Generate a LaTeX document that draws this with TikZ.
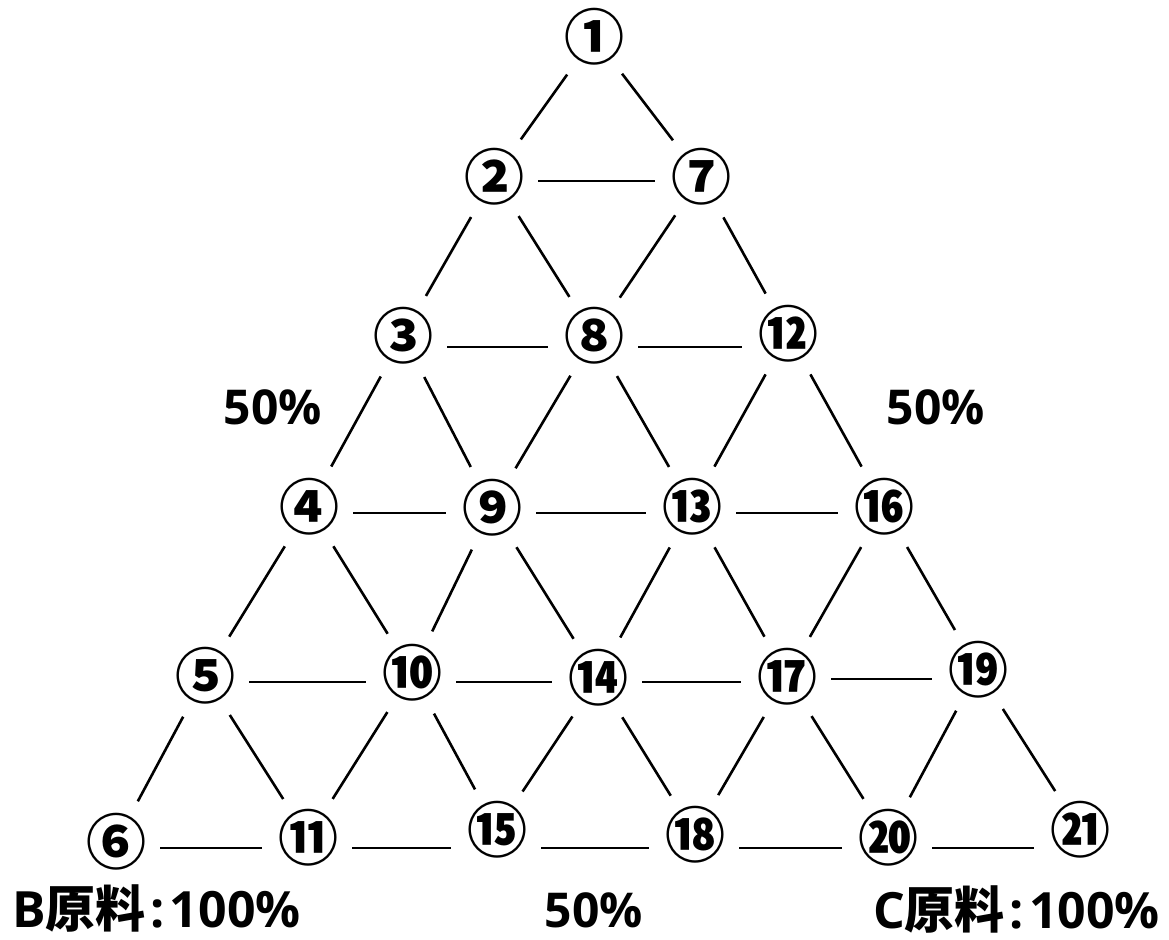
\documentclass[tikz,border=0pt]{standalone}
\usepackage{fontspec}
\setmainfont{Open Sans}
\newfontfamily\cjk{Noto Sans CJK JP}
\usetikzlibrary{calc}
\begin{document}
\begin{tikzpicture}[x=1pt,y=-1pt,
  num/.style={circle, minimum size=92pt, inner sep=0pt, font=\cjk\bfseries\fontsize{60}{60}\selectfont},
  lnk/.style={line width=2.6pt},
  pct/.style={inner sep=0pt, font=\bfseries\fontsize{48}{48}\selectfont},
  raw/.style={inner sep=0pt, font=\bfseries\fontsize{50}{50}\selectfont}]
\useasboundingbox (0,0) rectangle (1169,939);
\node[num] (n1) at (594,37) {①};
\node[num] (n2) at (494,177) {②};
\node[num] (n7) at (701,177) {⑦};
\node[num] (n3) at (403,336) {③};
\node[num] (n8) at (594,336) {⑧};
\node[num] (n12) at (788,334) {⑫};
\node[num] (n4) at (309,507) {④};
\node[num] (n9) at (492,508) {⑨};
\node[num] (n13) at (692,507) {⑬};
\node[num] (n16) at (884,507) {⑯};
\node[num] (n5) at (205,676) {⑤};
\node[num] (n10) at (412,673) {⑩};
\node[num] (n14) at (598,678) {⑭};
\node[num] (n17) at (787,677) {⑰};
\node[num] (n19) at (978,670) {⑲};
\node[num] (n6) at (116,842) {⑥};
\node[num] (n11) at (308,838) {⑪};
\node[num] (n15) at (497,830) {⑮};
\node[num] (n18) at (695,835) {⑱};
\node[num] (n20) at (888,838) {⑳};
\node[num] (n21) at (1080,830) {㉑};
% slanted connectors
\foreach \a/\b in {n1/n2,n1/n7,
  n2/n3,n2/n8,n7/n8,n7/n12,
  n3/n4,n3/n9,n8/n9,n8/n13,n12/n13,n12/n16,
  n4/n5,n4/n10,n9/n10,n9/n14,n13/n14,n13/n17,n16/n17,n16/n19,
  n5/n6,n5/n11,n10/n11,n10/n15,n14/n15,n14/n18,n17/n18,n17/n20,n19/n20,n19/n21}
  \draw[lnk] (\a) -- (\b);
% horizontal connectors (each row on one level)
\foreach \a/\b/\y in {n2/n7/181,
  n3/n8/347,n8/n12/347,
  n4/n9/513,n9/n13/513,n13/n16/513,
  n5/n10/682,n10/n14/682,n14/n17/682,n17/n19/679,
  n6/n11/848,n11/n15/848,n15/n18/848,n18/n20/848,n20/n21/848}
  \draw[lnk] ($(\a |- 0,\y)+(44,0)$) -- ($(\b |- 0,\y)+(-46,0)$);
\node[pct] (pl) at (273,407) {50\%};
\node[pct] (pr) at (936,407) {50\%};
\node[pct] (pb) at (594,910) {50\%};
\node[raw, anchor=west] (lb) at (12,908) {B{\cjk\bfseries 原料}\hspace{5pt}:\hspace{5pt}100\%};
\node[raw, anchor=east] (lc) at (1160,909) {C{\cjk\bfseries 原料}\hspace{5pt}:\hspace{5pt}100\%};
\end{tikzpicture}
\end{document}
